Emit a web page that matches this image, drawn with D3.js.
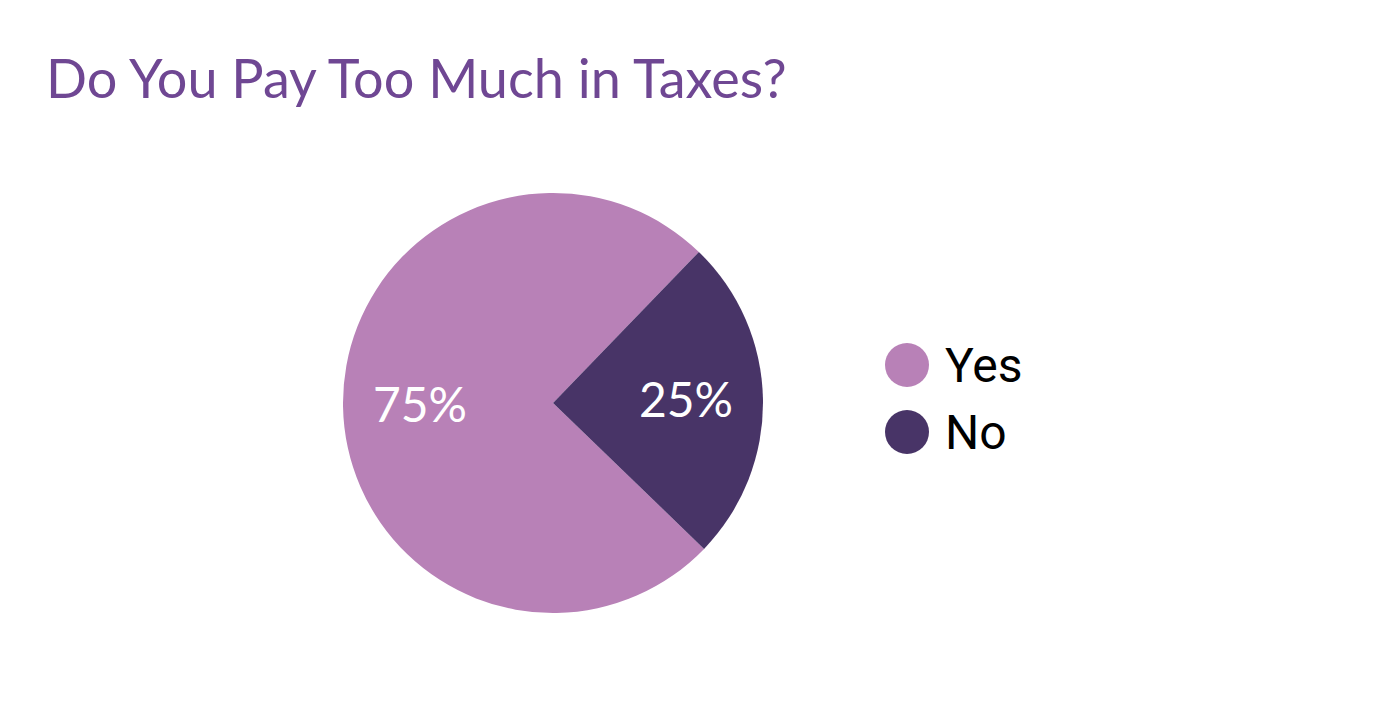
<!DOCTYPE html>
<html><head><meta charset="utf-8">
<script src="https://cdn.jsdelivr.net/npm/d3@7"></script>
<style>body{margin:0;background:#fff}</style></head>
<body><svg id="c" width="1380" height="703"></svg>
<script>
const categories = ["Yes", "No"];
const values = [75, 25];
const labels = ["75%", "25%"];
const colors = ["#b881b7", "#483467"];

const svg = d3.select("#c");
svg.append("text").attr("x", 46).attr("y", 98)
  .attr("font-family", "Lato, 'Open Sans', sans-serif").attr("font-size", 54)
  .attr("fill", "#6f4793").text("Do You Pay Too Much in Taxes?");

const cx = 553, cy = 403, r = 210;
const start = 134 * Math.PI / 180;
const pie = d3.pie().sort(null).startAngle(start).endAngle(start + 2 * Math.PI)(values);
const arc = d3.arc().innerRadius(0).outerRadius(r);
const g = svg.append("g").attr("transform", `translate(${cx},${cy})`);
g.selectAll("path").data(pie).enter().append("path")
  .attr("d", arc).attr("fill", (d, i) => colors[i]);
const la = d3.arc().innerRadius(0).outerRadius(2 * 100 + 0);
g.selectAll("text").data(pie).enter().append("text")
  .attr("transform", d => { const c = d3.arc().innerRadius(100).outerRadius(166).centroid(d); return `translate(${c[0] * 1 + (d.index ? 0 : 0)},${c[1]})`; })
  .attr("text-anchor", "middle").attr("dy", "0.35em")
  .attr("font-family", "Lato, 'Open Sans', sans-serif").attr("font-size", 48)
  .attr("fill", "#fff").text((d, i) => labels[i]);

const lg = svg.append("g");
categories.forEach((c, i) => {
  lg.append("circle").attr("cx", 907).attr("cy", 365 + i * 67).attr("r", 22).attr("fill", colors[i]);
  lg.append("text").attr("x", 945).attr("y", 365 + i * 67).attr("dy", "0.36em")
    .attr("font-family", "'Liberation Sans Narrow', Roboto, sans-serif").attr("font-size", 48)
    .attr("fill", "#000").text(c);
});
</script></body></html>
